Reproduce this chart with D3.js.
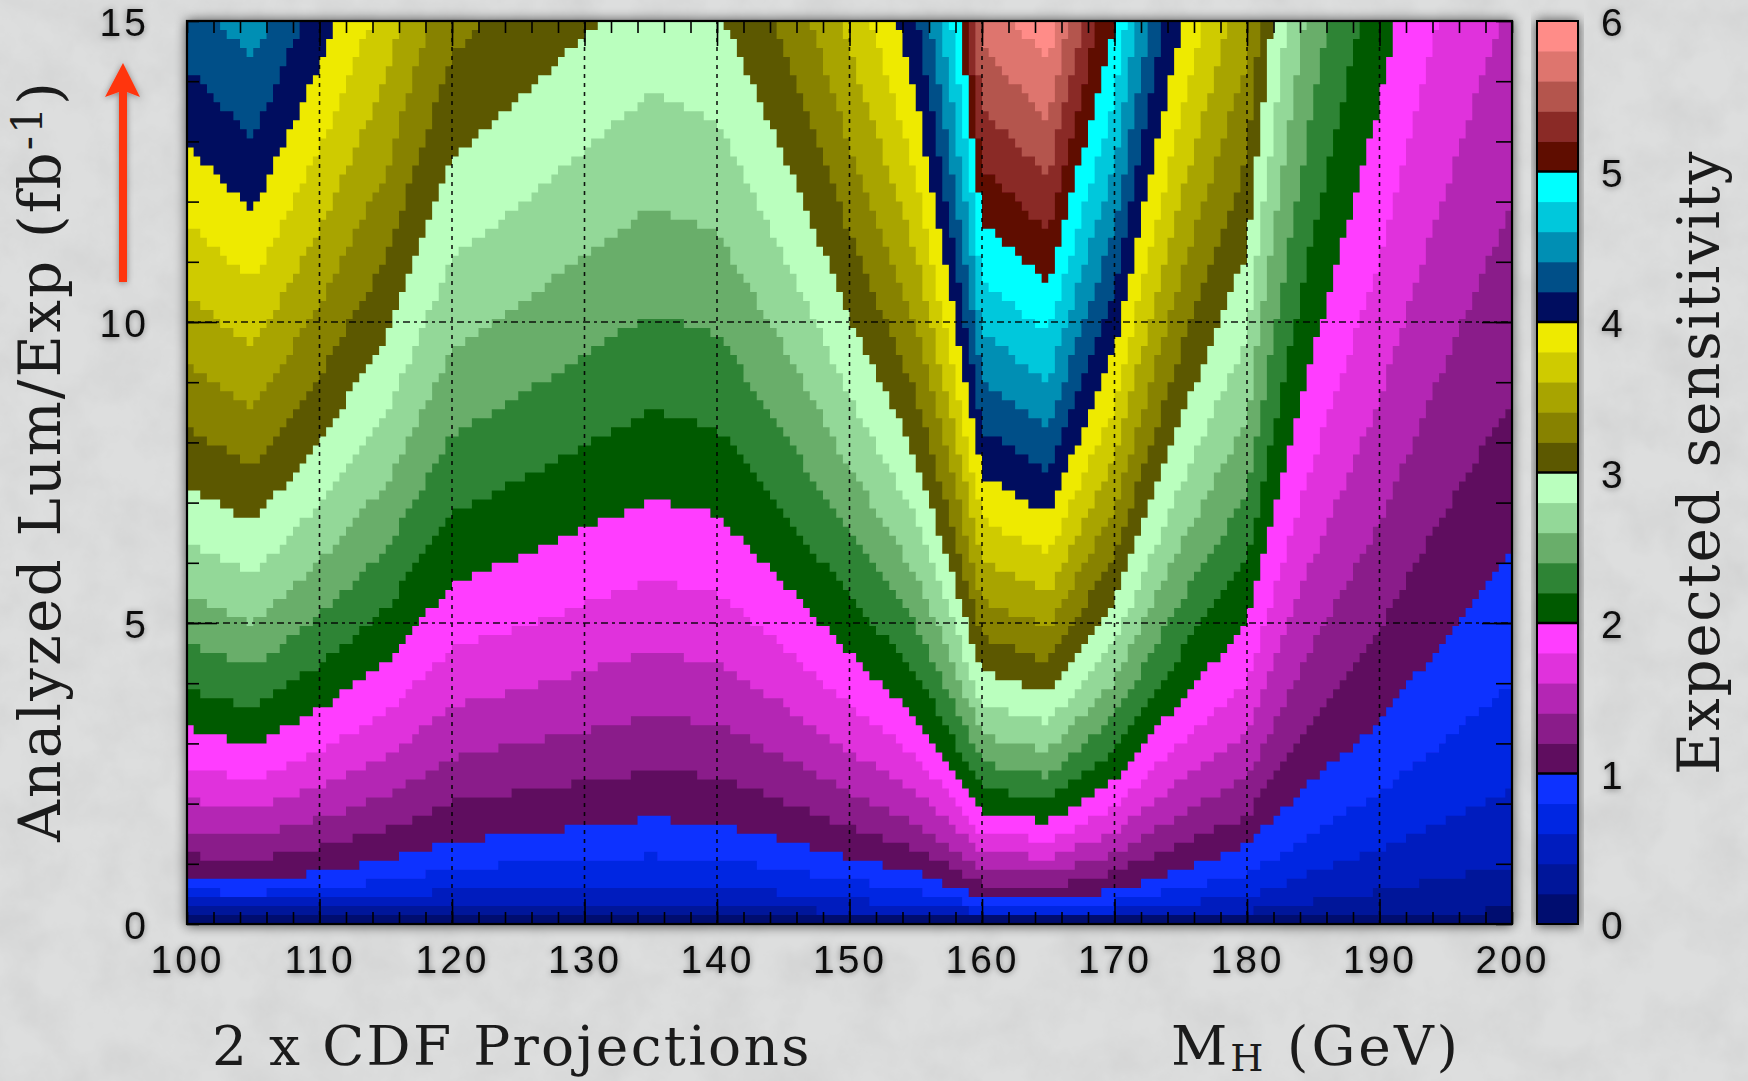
<!DOCTYPE html>
<html>
<head>
<meta charset="utf-8">
<script src="https://cdn.jsdelivr.net/npm/d3@7"></script>
<style>
  html, body { margin: 0; padding: 0; background: #d9dada; overflow: hidden; }
  .tick-labels text { font-family: "Liberation Sans", sans-serif; font-size: 39px; letter-spacing: 3px; fill: #111; }
  .title { font-family: "DejaVu Serif", serif; fill: #1b1b1b; }
</style>
</head>
<body>
<div id="chart"></div>
<script>
// mass points the contours were read at (GeV)
const massNodes = [100, 105, 110, 115, 120, 125, 130, 135, 140, 145, 150, 155, 160, 165, 170, 175, 180, 185, 190, 195, 200];

// sensitivity levels, one colour band starts at each
const levels = [0.2, 0.4, 0.6, 0.8, 1.0, 1.2, 1.4, 1.6, 1.8, 2.0, 2.2, 2.4, 2.6, 2.8, 3.0, 3.2, 3.4, 3.6, 3.8, 4.0, 4.2, 4.4, 4.6, 4.8, 5.0, 5.2, 5.4, 5.6, 5.8];

// luminosity where each level is reached, one row per level, one column per mass
const levelLum = [
  [.15,.15,.15,.15,.15,.15,.15,.15,.15,.15,.12,.1,.08,.08,.08,.1,.12,.15,.15,.19,.25],
  [.29,.28,.28,.28,.28,.28,.28,.3,.28,.25,.2,.15,.12,.12,.15,.18,.2,.38,.55,.76,.97],
  [.42,.4,.42,.45,.55,.56,.59,.63,.61,.51,.4,.31,.2,.2,.22,.34,.45,.85,1.22,1.72,2.25],
  [.55,.5,.6,.7,.9,1.0,1.05,1.13,1.09,.91,.72,.55,.3,.27,.38,.6,.8,1.52,2.18,3.05,4.0],
  [.75,.72,.85,1.05,1.35,1.5,1.6,1.75,1.65,1.4,1.1,.85,.45,.42,.55,.9,1.3,2.4,3.35,4.77,6.25],
  [1.14,1.07,1.28,1.56,2.03,2.19,2.36,2.53,2.45,2.04,1.61,1.24,.67,.61,.86,1.34,1.79,3.41,4.9,6.87,8.7],
  [1.55,1.45,1.74,2.12,2.76,2.98,3.21,3.45,3.33,2.78,2.2,1.69,.91,.83,1.17,1.82,2.43,4.65,6.66,9.35,11.95],
  [2.05,1.89,2.28,2.76,3.61,3.89,4.2,4.51,4.35,3.64,2.87,2.2,1.19,1.09,1.52,2.38,3.17,6.07,8.7,12.2,15.6],
  [2.6,2.4,2.88,3.5,4.57,4.92,5.31,5.7,5.51,4.6,3.63,2.79,1.51,1.38,1.93,3.01,4.02,7.68,11.0,15.5,19.8],
  [3.25,2.96,3.56,4.32,5.64,6.08,6.56,7.04,6.8,5.68,4.48,3.44,1.86,1.7,2.38,3.72,4.96,9.48,13.6,19.1,24.4],
  [3.9,3.58,4.31,5.23,6.82,7.36,7.94,8.52,8.23,6.87,5.42,4.16,2.25,2.06,2.88,4.5,6.0,11.47,16.46,23.1,29.5],
  [4.64,4.26,5.13,6.22,8.12,8.76,9.45,10.14,9.79,8.18,6.45,4.95,2.68,2.45,3.43,5.36,7.14,13.65,19.6,27.5,35.1],
  [5.44,5.0,6.02,7.3,9.53,10.28,11.09,11.9,11.49,9.6,7.57,5.81,3.14,2.87,4.02,6.29,8.38,16.02,23,32.2,41.2],
  [6.31,5.8,6.98,8.47,11.05,11.92,12.86,13.8,13.33,11.13,8.78,6.74,3.65,3.33,4.66,7.29,9.72,18.58,26.7,37.4,47.8],
  [7.25,6.66,8.01,9.72,12.69,13.68,14.76,15.84,15.3,12.78,10.08,7.74,4.19,3.83,5.36,8.37,11.16,21.33,30.6,42.9,54.9],
  [8.24,7.58,9.11,11.06,14.44,15.56,16.79,18.02,17.41,14.54,11.47,8.81,4.76,4.35,6.09,9.52,12.7,24.27,34.8,48.8,62.5],
  [9.31,8.55,10.29,12.48,16.3,17.57,18.96,20.35,19.65,16.42,12.95,9.94,5.38,4.91,6.88,10.75,14.33,27.4,39.3,55.1,70.5],
  [10.43,9.59,11.53,14.0,18.27,19.7,21.25,22.81,22.03,18.4,14.52,11.15,6.03,5.51,7.71,12.05,16.07,30.7,44.1,61.8,79],
  [11.62,10.69,12.85,15.6,20.36,21.95,23.68,25.41,24.55,20.5,16.17,12.42,6.71,6.14,8.59,13.43,17.9,34.2,49.1,68.9,88.1],
  [12.9,11.84,14.24,17.28,22.56,24.32,26.24,28.16,27.2,22.72,17.92,13.76,7.44,6.8,9.52,14.88,19.84,37.9,54.4,76.3,97.6],
  [14.2,13.05,15.7,19.05,24.87,26.81,28.93,31.05,29.99,25.05,19.76,15.17,8.2,7.5,10.5,16.41,21.87,41.8,60,84.1,107.6],
  [15.6,14.33,17.23,20.91,27.3,29.43,31.75,34.07,32.91,27.49,21.68,16.65,9.0,8.23,11.52,18.0,24.0,45.9,65.8,92.3,118],
  [17.0,15.66,18.83,22.85,29.84,32.16,34.7,37.24,35.97,30.05,23.7,18.2,9.84,8.99,12.59,19.68,26.2,50.1,71.9,100.9,129],
  [18.5,17.05,20.51,24.88,32.49,35.02,37.79,40.55,39.17,32.72,25.8,19.81,10.71,9.79,13.71,21.43,28.6,54.6,78.3,109.9,140.5],
  [20.1,18.5,22.25,27,35.25,38,41,44,42.5,35.5,28,21.5,11.63,10.63,14.88,23.25,31,59.3,85,119,152.5],
  [21.8,20.01,24.07,29.2,38.13,41.1,44.35,47.6,45.97,38.4,30.28,23.25,12.57,11.49,16.09,25.15,33.5,64,91.9,129,165],
  [23.5,21.58,25.95,31.5,41.1,44.3,47.8,51.3,49.6,41.4,32.7,25.1,13.56,12.39,17.35,27.1,36.2,69.1,99.1,139,178],
  [25.2,23.2,27.9,33.9,44.2,47.7,51.4,55.2,53.3,44.5,35.1,27,14.58,13.33,18.66,29.2,38.9,74.3,106.6,149.6,191],
  [27.1,24.9,29.9,36.3,47.4,51.1,55.2,59.2,57.2,47.8,37.7,28.9,15.64,14.3,20.0,31.3,41.7,79.7,114.4,160,205]
];

// palette from the colour bar, bottom to top, first entry is the 0 - 0.2 band
const bandColors = [
  "#000f70", "#00159a", "#001cbe", "#0626e2", "#0a30ff",
  "#5e0f5e", "#8a1c8a", "#b428b4", "#e030dc", "#ff3cff",
  "#005a00", "#2f8436", "#69ae6a", "#93d898", "#baffbe",
  "#5c5800", "#878200", "#a8a400", "#cfcb00", "#eeea00",
  "#00085e", "#005088", "#008fb4", "#00c8dc", "#00ffff",
  "#5e0800", "#8a2a28", "#b4544e", "#de746e", "#ff8c88"
];

const barEdges = d3.range(0, 30); // band index, each band is 0.2 wide

const massTicks = [100, 110, 120, 130, 140, 150, 160, 170, 180, 190, 200];
const massMinorTicks = d3.range(100, 201, 2);
const massGrid = [110, 120, 130, 140, 150, 160, 170, 180, 190];
const lumTicks = [0, 5, 10, 15];
const lumMinorTicks = d3.range(0, 16, 1);
const lumGrid = [5, 10];
const barTicks = [0, 1, 2, 3, 4, 5, 6];

// cell size of the histogram behind the plot
const massBin = 0.5;
const lumBin = 0.15;

const W = 1748, H = 1081;
const plot = {left: 187, right: 1512, top: 21, bottom: 924};
const bar = {left: 1537, right: 1578};

const x = d3.scaleLinear().domain([100, 200]).range([plot.left, plot.right]);
const y = d3.scaleLinear().domain([0, 15]).range([plot.bottom, plot.top]);
const z = d3.scaleLinear().domain([0, 6]).range([plot.bottom, plot.top]);

const svg = d3.select("#chart").append("svg").attr("width", W).attr("height", H)
  .style("display", "block");

const defs = svg.append("defs");

defs.append("clipPath").attr("id", "plot-clip").append("rect")
  .attr("x", plot.left).attr("y", plot.top)
  .attr("width", plot.right - plot.left).attr("height", plot.bottom - plot.top);

const soften = defs.append("filter").attr("id", "soften");
soften.append("feGaussianBlur").attr("stdDeviation", 0.6);

const haze = defs.append("filter").attr("id", "haze")
  .attr("x", "-10%").attr("y", "-10%").attr("width", "120%").attr("height", "120%");
haze.append("feGaussianBlur").attr("stdDeviation", 6);

const labelShadow = defs.append("filter").attr("id", "label-shadow")
  .attr("x", "-30%").attr("y", "-30%").attr("width", "160%").attr("height", "160%");
labelShadow.append("feDropShadow").attr("dx", 0).attr("dy", 1).attr("stdDeviation", 3)
  .attr("flood-color", "#000").attr("flood-opacity", 0.4);

// paper texture
const paper = defs.append("filter").attr("id", "paper")
  .attr("x", 0).attr("y", 0).attr("width", "100%").attr("height", "100%");
paper.append("feTurbulence").attr("type", "fractalNoise").attr("baseFrequency", 0.02)
  .attr("numOctaves", 5).attr("seed", 7);
paper.append("feColorMatrix").attr("type", "matrix")
  .attr("values", "0 0 0 0 0.45  0 0 0 0 0.45  0 0 0 0 0.45  0.3 0.3 0 0 -0.24");

svg.append("rect").attr("width", W).attr("height", H).attr("fill", "#dddede");
svg.append("rect").attr("width", W).attr("height", H).attr("filter", "url(#paper)");

// shadows under the plot and the colour bar
svg.append("rect")
  .attr("x", plot.left - 1).attr("y", plot.top - 1)
  .attr("width", plot.right - plot.left + 2).attr("height", plot.bottom - plot.top + 3)
  .attr("fill", "#000").attr("opacity", 0.65).attr("filter", "url(#haze)");
svg.append("rect")
  .attr("x", bar.left - 1).attr("y", plot.top - 1)
  .attr("width", bar.right - bar.left + 2).attr("height", plot.bottom - plot.top + 3)
  .attr("fill", "#000").attr("opacity", 0.65).attr("filter", "url(#haze)");

// curve that walks the read points through the histogram cells, like the original plot
function binStairs(context) {
  let line = NaN, pts = [];
  const cellH = y(0) - y(lumBin);
  const yAt = (px) => {
    const i = Math.min(Math.max(d3.bisector((p) => p[0]).right(pts, px), 1), pts.length - 1);
    const a = pts[i - 1], b = pts[i];
    return a[1] + (b[1] - a[1]) * (px - a[0]) / (b[0] - a[0]);
  };
  return {
    areaStart() { line = 0; },
    areaEnd() { line = NaN; },
    lineStart() { pts = []; },
    point(px, py) { pts.push([+px, +py]); },
    lineEnd() {
      if (line === 0) {
        // top of the band, the boundary
        let m = x.domain()[0];
        while (m < x.domain()[1]) {
          const x0 = x(m), x1 = x(m + massBin);
          const cells = Math.round((y(0) - yAt((x0 + x1) / 2)) / cellH);
          const py = y(0) - cells * cellH;
          if (m === x.domain()[0]) context.moveTo(x0, py);
          else context.lineTo(x0, py);
          context.lineTo(x1, py);
          m += massBin;
        }
      } else {
        // straight way back above the plot
        pts.forEach((p) => context.lineTo(p[0], p[1]));
        context.closePath();
      }
      line = 1 - line;
    }
  };
}

const bandArea = d3.area()
  .x((d) => x(d.mass))
  .y0(plot.top - 40)
  .y1((d) => y(d.lum))
  .curve(binStairs);

const bands = svg.append("g").attr("filter", "url(#soften)")
  .append("g").attr("clip-path", "url(#plot-clip)");

bands.append("rect")
  .attr("x", plot.left).attr("y", plot.top)
  .attr("width", plot.right - plot.left).attr("height", plot.bottom - plot.top)
  .attr("fill", bandColors[0]);

bands.selectAll("path.band")
  .data(levels)
  .enter()
  .append("path")
  .attr("class", "band")
  .attr("fill", (d, i) => bandColors[i + 1])
  .attr("d", (d, i) => bandArea(massNodes.map((m, j) => ({mass: m, lum: levelLum[i][j]}))));

// dashed grid
const grid = svg.append("g").attr("stroke", "#000").attr("stroke-width", 1.6)
  .attr("stroke-dasharray", "4 5").attr("opacity", 0.9);
grid.selectAll("line.v").data(massGrid).enter().append("line").attr("class", "v")
  .attr("x1", (d) => x(d)).attr("x2", (d) => x(d))
  .attr("y1", plot.bottom).attr("y2", plot.top);
grid.selectAll("line.h").data(lumGrid).enter().append("line").attr("class", "h")
  .attr("x1", plot.left).attr("x2", plot.right)
  .attr("y1", (d) => y(d)).attr("y2", (d) => y(d))
  .attr("stroke-dasharray", "7 4 3 4");

// inward ticks on all four sides
function tickStyle(g) {
  g.select(".domain").remove();
  g.selectAll("line").attr("stroke", "#000").attr("stroke-width", 1.6);
  g.selectAll("text").remove();
}
const noLabel = () => "";
svg.append("g").attr("transform", `translate(0,${plot.bottom})`)
  .call(d3.axisBottom(x).tickValues(massMinorTicks).tickSize(-12).tickFormat(noLabel)).call(tickStyle);
svg.append("g").attr("transform", `translate(0,${plot.top})`)
  .call(d3.axisTop(x).tickValues(massMinorTicks).tickSize(-12).tickFormat(noLabel)).call(tickStyle);
svg.append("g").attr("transform", `translate(0,${plot.bottom})`)
  .call(d3.axisBottom(x).tickValues(massGrid).tickSize(-25).tickFormat(noLabel)).call(tickStyle);
svg.append("g").attr("transform", `translate(0,${plot.top})`)
  .call(d3.axisTop(x).tickValues(massGrid).tickSize(-25).tickFormat(noLabel)).call(tickStyle);
svg.append("g").attr("transform", `translate(${plot.left},0)`)
  .call(d3.axisLeft(y).tickValues(lumMinorTicks).tickSize(-12).tickFormat(noLabel)).call(tickStyle);
svg.append("g").attr("transform", `translate(${plot.right},0)`)
  .call(d3.axisRight(y).tickValues(lumMinorTicks).tickSize(-16).tickFormat(noLabel)).call(tickStyle);
svg.append("g").attr("transform", `translate(${plot.left},0)`)
  .call(d3.axisLeft(y).tickValues(lumGrid).tickSize(-30).tickFormat(noLabel)).call(tickStyle);
svg.append("g").attr("transform", `translate(${plot.right},0)`)
  .call(d3.axisRight(y).tickValues(lumGrid).tickSize(-30).tickFormat(noLabel)).call(tickStyle);

// frame
svg.append("rect")
  .attr("x", plot.left).attr("y", plot.top)
  .attr("width", plot.right - plot.left).attr("height", plot.bottom - plot.top)
  .attr("fill", "none").attr("stroke", "#000").attr("stroke-width", 2.2);

// colour bar
svg.append("g").attr("filter", "url(#soften)")
  .selectAll("rect")
  .data(barEdges)
  .enter()
  .append("rect")
  .attr("x", bar.left).attr("width", bar.right - bar.left)
  .attr("y", (d) => z((d + 1) * 0.2))
  .attr("height", (d) => z(d * 0.2) - z((d + 1) * 0.2) + 0.5)
  .attr("fill", (d) => bandColors[d]);
svg.append("g").selectAll("line")
  .data(barTicks.slice(1, 6))
  .enter()
  .append("line")
  .attr("x1", bar.left).attr("x2", bar.right)
  .attr("y1", (d) => z(d)).attr("y2", (d) => z(d))
  .attr("stroke", "#000").attr("stroke-width", 2.5);
svg.append("rect")
  .attr("x", bar.left).attr("y", plot.top)
  .attr("width", bar.right - bar.left).attr("height", plot.bottom - plot.top)
  .attr("fill", "none").attr("stroke", "#000").attr("stroke-width", 2);

// tick labels
function labelStyle(g) {
  g.select(".domain").remove();
  g.selectAll("line").remove();
  g.attr("font-family", null).attr("font-size", null);
}
svg.append("g").attr("class", "tick-labels").attr("filter", "url(#label-shadow)")
  .attr("transform", `translate(0,${plot.bottom})`)
  .call(d3.axisBottom(x).tickValues(massTicks).tickSize(0).tickPadding(21)).call(labelStyle);
svg.append("g").attr("class", "tick-labels").attr("filter", "url(#label-shadow)")
  .attr("transform", `translate(149,2.5)`)
  .call(d3.axisLeft(y).tickValues(lumTicks).tickSize(0).tickPadding(0)).call(labelStyle);
svg.append("g").attr("class", "tick-labels").attr("filter", "url(#label-shadow)")
  .attr("transform", `translate(${bar.right},2.5)`)
  .call(d3.axisRight(z).tickValues(barTicks).tickSize(0).tickPadding(23).tickFormat(d3.format("d"))).call(labelStyle);

// red arrow next to the luminosity axis
const arrowLine = d3.line();
svg.append("path")
  .attr("d", arrowLine([[119, 282], [127, 282], [127, 92], [140, 97], [123, 63], [105, 97], [119, 92]]) + "Z")
  .attr("fill", "#ff3410")
  .attr("filter", "url(#label-shadow)");

// axis titles
const yTitle = svg.append("text").attr("class", "title")
  .attr("transform", "translate(60,842) rotate(-90)")
  .attr("font-size", 58)
  .attr("letter-spacing", 2.2);
yTitle.append("tspan").text("Analyzed Lum/Exp (fb");
yTitle.append("tspan").attr("dy", -18).attr("font-size", 42).text("-1");
yTitle.append("tspan").attr("dy", 18).text(")");

svg.append("text").attr("class", "title")
  .attr("transform", "translate(1719,775) rotate(-90)")
  .attr("font-size", 58)
  .attr("letter-spacing", 1.7)
  .text("Expected sensitivity");

svg.append("text").attr("class", "title")
  .attr("x", 212).attr("y", 1065)
  .attr("font-size", 55)
  .attr("letter-spacing", 2.3)
  .text("2 x CDF Projections");

const xTitle = svg.append("text").attr("class", "title")
  .attr("x", 1171).attr("y", 1065)
  .attr("font-size", 55)
  .attr("letter-spacing", 3);
xTitle.append("tspan").text("M");
xTitle.append("tspan").attr("font-size", 38).attr("dy", 6).text("H");
xTitle.append("tspan").attr("dy", -6).text(" (GeV)");
</script>
</body>
</html>
